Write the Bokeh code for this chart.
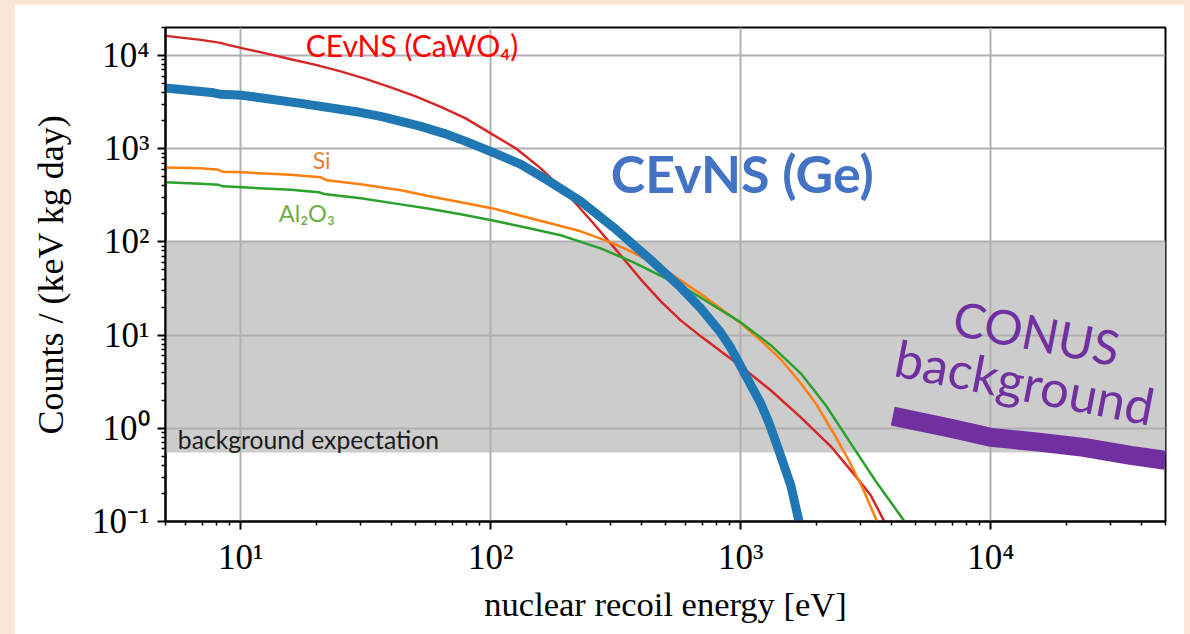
from bokeh.plotting import figure
from bokeh.models import BoxAnnotation, Label, FixedTicker, Range1d
from bokeh.layouts import column
from bokeh.embed import file_html
from bokeh.resources import INLINE

# Differential CEvNS rates versus nuclear recoil energy.
# energy in eV, rate in counts / (keV kg day)
ge_energy = [5.0, 7.8, 8.32, 10.2, 17.4, 29.9, 36.3, 43.7, 52.5, 64.9, 79.4,
             102, 132, 169, 229, 310, 425, 575, 692, 824, 912, 1000, 1202,
             1294, 1406, 1585, 1706, 1770]
ge_rate = [4480, 3980, 3840, 3740, 3070, 2460, 2228, 1968, 1738, 1463, 1200,
           915, 680, 458, 273, 143, 68.4, 32.6, 19.4, 11.0, 7.3, 4.63, 1.85,
           1.16, 0.625, 0.245, 0.103, 0.071]

cawo4_energy = [5.0, 6.92, 8.32, 8.71, 10.2, 12.6, 15.85, 19.95, 25.1, 31.6,
                39.8, 50.1, 63.1, 79.4, 100, 125.9, 158.5, 199.5, 251, 316,
                398, 479, 575, 692, 832, 1000, 1318, 1738, 2291, 2884, 3311,
                3733, 4093]
cawo4_rate = [16260, 14730, 13680, 13180, 11950, 10560, 9110, 7940, 6760,
              5620, 4560, 3650, 2820, 2120, 1460, 1010, 616, 341, 171, 83.3,
              39.7, 23.0, 14.4, 9.7, 6.7, 4.63, 2.56, 1.31, 0.641, 0.305,
              0.191, 0.103, 0.071]

si_energy = [5.0, 6.92, 8.17, 8.47, 10.2, 15.85, 20.9, 22.1, 30.2, 43.7,
             57.5, 75.9, 102, 132, 174, 229, 302, 363, 457, 575, 724, 871,
             1000, 1202, 1445, 1738, 1995, 2355, 2704, 3076, 3532, 3698]
si_rate = [631, 616, 594, 565, 558, 525, 493, 458, 415, 358, 308, 266, 229,
           191, 158, 130, 99, 79, 57.5, 38.7, 25.4, 17.6, 13.4, 8.8, 5.5,
           3.04, 1.85, 0.88, 0.454, 0.227, 0.096, 0.071]

al2o3_energy = [5.0, 6.92, 8.17, 8.47, 10.2, 15.85, 20.5, 21.9, 30.2, 43.7,
                56, 75.9, 102, 138, 190.5, 275, 373, 592, 1000, 1318, 1738,
                2188, 2754, 3467, 4487, 4786]
al2o3_rate = [436, 420, 410, 395, 385, 362, 341, 324, 294, 253, 229, 198,
              170, 143, 118, 85.4, 60.4, 32.6, 13.7, 7.8, 3.89, 1.77, 0.69,
              0.27, 0.103, 0.079]

conus_energy = [4055, 6918, 10000, 15850, 23550, 36300, 50000]
conus_rate = [1.35, 1.0, 0.8, 0.707, 0.625, 0.513, 0.454]

# expected background band
bg_low, bg_high = 0.55, 100.0

x_ticks = [10, 100, 1000, 10000]
x_tick_labels = ["10¹", "10²", "10³", "10⁴"]
y_ticks = [0.1, 1, 10, 100, 1000, 10000]
y_tick_labels = ["10⁻¹", "10⁰", "10¹", "10²", "10³", "10⁴"]

x_minor = [m * 10.0 ** k for k in range(0, 5) for m in range(2, 10)]
y_minor = [m * 10.0 ** k for k in range(-1, 5) for m in range(2, 10)]

SERIF = "Liberation Serif"
SANS = "Lato"

p = figure(width=1170, height=630, x_axis_type="log", y_axis_type="log",
           x_range=Range1d(5, 5e4), y_range=Range1d(0.1, 2e4),
           output_backend="svg", toolbar_location=None,
           min_border_left=151, min_border_right=19,
           min_border_top=23, min_border_bottom=113,
           margin=(4, 6, 0, 14))
p.background_fill_color = "white"
p.border_fill_color = "white"
p.outline_line_color = "black"
p.outline_line_width = 2

p.xaxis.ticker = FixedTicker(ticks=x_ticks, minor_ticks=x_minor)
p.yaxis.ticker = FixedTicker(ticks=y_ticks, minor_ticks=y_minor)
p.xaxis.major_label_overrides = dict(zip(x_ticks, x_tick_labels))
p.yaxis.major_label_overrides = dict(zip(y_ticks, y_tick_labels))

for ax in (p.xaxis[0], p.yaxis[0]):
    ax.major_label_text_font = SERIF
    ax.major_label_text_font_size = "35px"
    ax.major_label_text_color = "black"
    ax.axis_label_text_font = SERIF
    ax.axis_label_text_font_style = "normal"
    ax.axis_label_text_color = "black"
    ax.axis_line_color = "black"
    ax.axis_line_width = 2
    ax.major_tick_line_color = "black"
    ax.major_tick_line_width = 2
    ax.major_tick_out = 8
    ax.major_tick_in = 0
    ax.minor_tick_line_color = "black"
    ax.minor_tick_line_width = 1.5
    ax.minor_tick_out = 4
    ax.minor_tick_in = 0

p.xaxis.axis_label = "nuclear recoil energy [eV]"
p.yaxis.axis_label = "Counts / (keV kg day)"
p.xaxis.axis_label_text_font_size = "34.5px"
p.yaxis.axis_label_text_font_size = "36px"
p.xaxis.major_label_standoff = 8
p.yaxis.major_label_standoff = 8
p.xaxis.axis_label_standoff = 5
p.yaxis.axis_label_standoff = 18

p.grid.grid_line_color = "#b0b0b0"
p.grid.grid_line_width = 2
p.xgrid.ticker = p.xaxis.ticker
p.ygrid.ticker = p.yaxis.ticker

band = BoxAnnotation(bottom=bg_low, top=bg_high, fill_color="#cccccc",
                     fill_alpha=1.0, line_alpha=0.0, level="image")
p.add_layout(band)

p.line(cawo4_energy, cawo4_rate, line_color="#d62728", line_width=2.5,
       line_join="round")
p.line(si_energy, si_rate, line_color="#ff7f0e", line_width=2.5,
       line_join="round")
p.line(al2o3_energy, al2o3_rate, line_color="#2ca02c", line_width=2.5,
       line_join="round")
p.line(ge_energy, ge_rate, line_color="#1f77b4", line_width=9,
       line_join="round")
p.line(conus_energy, conus_rate, line_color="#7030a0", line_width=19,
       line_join="round", line_cap="butt")

labels = [
    Label(x=18.2, y=13060, text="CEvNS (CaWO₄)", text_color="#ff0000",
          text_font=SANS, text_font_size="30px"),
    Label(x=19.4, y=760, text="Si", text_color="#ed7d31",
          text_font=SANS, text_font_size="23px"),
    Label(x=14.2, y=204, text="Al₂O₃", text_color="#70ad47",
          text_font=SANS, text_font_size="23.5px"),
    Label(x=302, y=545, text="CEvNS (Ge)", text_color="#4472c4",
          text_font=SANS, text_font_style="bold", text_font_size="52px"),
    Label(x=5.6, y=0.755, text="background expectation", text_color="#1a1a1a",
          text_font=SANS, text_font_size="24.7px"),
    Label(x=7145, y=15.9, text="CONUS", text_color="#7030a0",
          text_font=SANS, text_font_size="48px", angle=-11, angle_units="deg"),
    Label(x=4180, y=5.87, text="background", text_color="#7030a0",
          text_font=SANS, text_font_size="51px", angle=-11, angle_units="deg"),
]
for lab in labels:
    lab.text_baseline = "alphabetic"
    lab.text_align = "left"
    p.add_layout(lab)

page = column(p, width=1190, height=634,
              styles={"background-color": "#fbe5d6"})

open("out.html", "w").write(file_html(page, INLINE))
